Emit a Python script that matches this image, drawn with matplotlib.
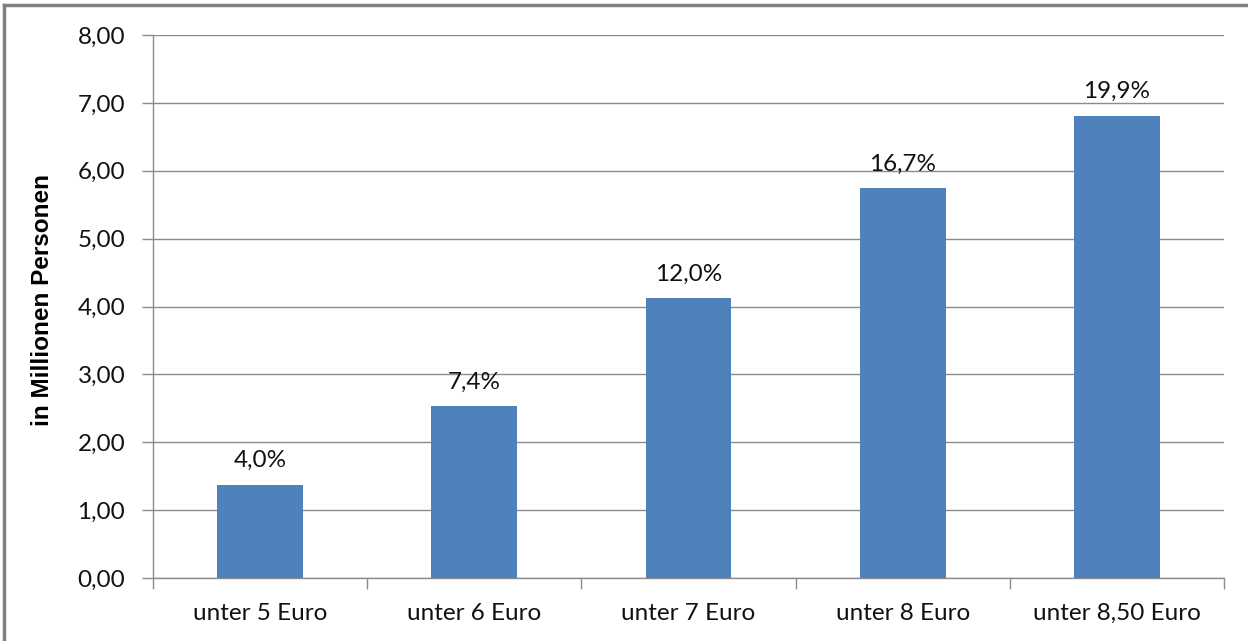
import matplotlib.pyplot as plt
from matplotlib.lines import Line2D
import numpy as np

categories = ["unter 5 Euro", "unter 6 Euro", "unter 7 Euro", "unter 8 Euro", "unter 8,50 Euro"]
persons_mio = [1.37, 2.53, 4.12, 5.74, 6.81]
share_labels = ["4,0%", "7,4%", "12,0%", "16,7%", "19,9%"]
y_ticks = [0, 1, 2, 3, 4, 5, 6, 7, 8]

BAR_COLOR = "#4F81BD"
GRID_COLOR = "#8C8C8C"
TEXT_COLOR = "#111111"
FS = 17.5

plt.rcParams["font.family"] = ["Lato", "DejaVu Sans"]

fig = plt.figure(figsize=(12.48, 6.41), dpi=100)
ax = fig.add_axes([153 / 1248, 1 - 578 / 641, (1224 - 153) / 1248, (578 - 35) / 641])

x = np.arange(len(categories))
ax.bar(x, persons_mio, width=0.4, color=BAR_COLOR, zorder=3)
for xi, val, lab in zip(x, persons_mio, share_labels):
    ax.annotate(lab, (xi, val), xytext=(0, 10), textcoords="offset points",
                ha="center", va="bottom", fontsize=FS, color=TEXT_COLOR)

ax.set_xlim(-0.5, len(categories) - 0.5)
ax.set_ylim(0, 8)
ax.set_yticks(y_ticks)
ax.set_yticklabels([f"{v:.2f}".replace(".", ",") for v in y_ticks])
ax.yaxis.grid(True, color=GRID_COLOR, linewidth=1.0, zorder=0)
ax.set_axisbelow(True)

# category labels sit between the boundary ticks
ax.set_xticks(x)
ax.set_xticklabels(categories)
ax.tick_params(axis="x", length=0, pad=18, labelsize=FS, labelcolor=TEXT_COLOR)
ax.set_xticks(np.arange(len(categories) + 1) - 0.5, minor=True)
ax.tick_params(axis="x", which="minor", length=8, color=GRID_COLOR, width=1.0)
ax.tick_params(axis="y", length=8, color=GRID_COLOR, width=1.0, pad=12,
               labelsize=FS, labelcolor=TEXT_COLOR)

for side in ("top", "right"):
    ax.spines[side].set_visible(False)
for side in ("left", "bottom"):
    ax.spines[side].set_color(GRID_COLOR)
    ax.spines[side].set_linewidth(1.0)

ax.set_ylabel("in Millionen Personen", fontsize=FS, fontweight="bold",
              family=["Liberation Sans", "DejaVu Sans"], color="black")
ax.yaxis.set_label_coords(-99 / (1224 - 153), 0.512)

# outer frame, visible on the top and left edge
frame_kw = dict(color="#808080", linewidth=2.5, transform=fig.transFigure)
fig.add_artist(Line2D([4 / 1248, 1.0], [1 - 5 / 641, 1 - 5 / 641], **frame_kw))
fig.add_artist(Line2D([4 / 1248, 4 / 1248], [0.0, 1 - 5 / 641], **frame_kw))

fig.savefig("out.png", dpi=100, facecolor="white")
